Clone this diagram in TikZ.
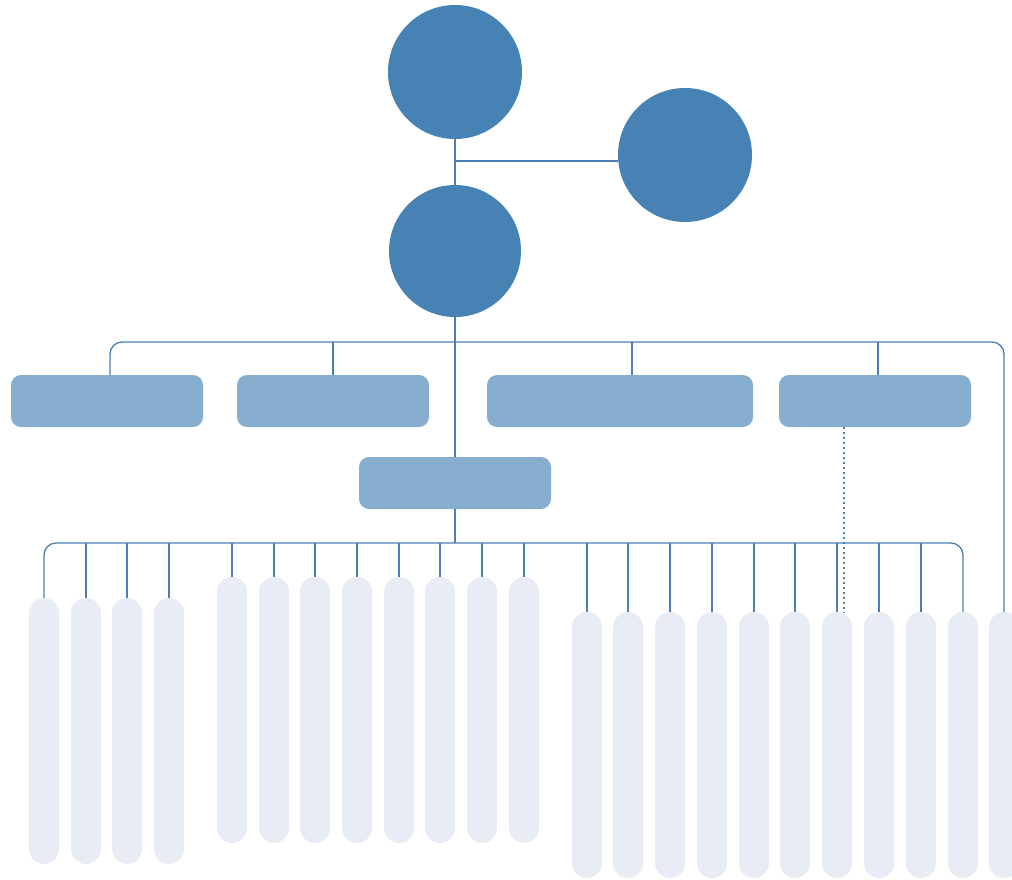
\documentclass[tikz,border=0pt]{standalone}
\begin{document}
\begin{tikzpicture}[x=1pt,y=-1pt,
  conn/.style={draw=linec, line width=1.3pt},
  bigcirc/.style={circle, fill=circc, draw=none, minimum size=134pt, inner sep=0pt},
  midbox/.style={rectangle, rounded corners=10pt, fill=boxc, draw=none, minimum height=52pt, inner sep=0pt},
  barbox/.style={rectangle, rounded corners=15pt, fill=barc, draw=none, minimum width=30pt, minimum height=266pt, inner sep=0pt}]
\definecolor{circc}{HTML}{4682B4}
\definecolor{boxc}{HTML}{88AECF}
\definecolor{barc}{HTML}{E8ECF5}
\definecolor{linec}{HTML}{4A7EB5}
\clip (0,0) rectangle (1012,879);
% circles
\node[bigcirc] (t) at (455,72) {};
\node[bigcirc] (r) at (685,155) {};
\node[bigcirc, minimum size=132pt] (m) at (455,251) {};
% boxes
\node[midbox, minimum width=192pt] (b1) at (107,401) {};
\node[midbox, minimum width=192pt] (b2) at (333,401) {};
\node[midbox, minimum width=266pt] (b3) at (620,401) {};
\node[midbox, minimum width=192pt] (b4) at (875,401) {};
\node[midbox, minimum width=192pt] (b5) at (455,483) {};
% bars group A
\foreach \i/\x in {1/44,2/86,3/127,4/169}
  \node[barbox] (a\i) at (\x,731) {};
% bars group B
\foreach \i/\x in {1/232,2/274,3/315,4/357,5/399,6/440,7/482,8/524}
  \node[barbox] (g\i) at (\x,710) {};
% bars group C
\foreach \i/\x in {1/587,2/628,3/670,4/712,5/754,6/795,7/837,8/879,9/921,10/963,11/1004}
  \node[barbox] (c\i) at (\x,745) {};
% coordinates
\coordinate (jr) at (455,161);
\coordinate (bus1) at (455,342);
\coordinate (bus2) at (455,543);
\coordinate (dtop) at (844,427);
\coordinate (dbot) at (844,613);
% connectors
\draw[conn] (t.south) -- (m.north);
\draw[conn] (jr) -- (jr -| r.west);
\draw[conn] (m.south) -- (b5.north);
\draw[conn, rounded corners=12pt] ([xshift=3pt]b1.north) |- (bus1) -| (c11.north);
\draw[conn] (b2.north) -- (b2.north |- bus1);
\draw[conn] ([xshift=12pt]b3.north) -- ([xshift=12pt]b3.north |- bus1);
\draw[conn] ([xshift=3pt]b4.north) -- ([xshift=3pt]b4.north |- bus1);
\draw[conn] (b5.south) -- (bus2);
\draw[conn, rounded corners=12pt] (a1.north) |- (bus2) -| (c10.north);
\foreach \n in {a2,a3,a4,g1,g2,g3,g4,g5,g6,g7,g8,c1,c2,c3,c4,c5,c6,c7,c8,c9}
  \draw[conn] (\n.north) -- (\n.north |- bus2);
\draw[draw=linec, line width=1.8pt, dash pattern=on 1.8pt off 3.2pt] (dtop) -- (dbot);
\end{tikzpicture}
\end{document}
